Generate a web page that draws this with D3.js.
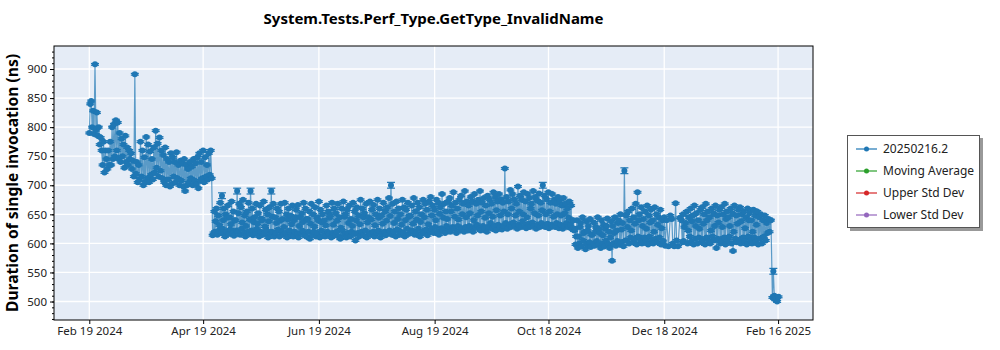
<!DOCTYPE html>
<html><head><meta charset="utf-8">
<script src="https://cdn.jsdelivr.net/npm/d3@7"></script>
<style>
body{margin:0;background:#fff;}
text{font-family:"Noto Sans","Open Sans",sans-serif;}
</style>
</head><body>
<svg id="chart" width="1000" height="350"></svg>
<script>
const chartTitle = "System.Tests.Perf_Type.GetType_InvalidName";
const yAxisTitle = "Duration of single invocation (ns)";
const seriesName = "20250216.2";

// Benchmark runs, one inner list per calendar day starting at firstRunDay (ns)
const firstRunDay = [2024, 1, 19];
const dailyRuns = [
  [790,840],[845,800],[828,788],[908,795],[825,785],[800,770],[782,760],[735,775],[722,760],[745,728],
  [760,735],[775,735],[800,745],[805,750],[812,760],[808,745],[790,740],[780,750],[770,730],[785,740],
  [765,735],[760,745],[755,728],[742,715],[891,720],[740,705],[735,710],[775,715],[760,700],[748,705],
  [783,712],[770,705],[758,718],[745,710],[765,722],[794,730],[772,715],[782,725],[760,712],[752,705],
  [765,700],[745,710],[740,698],[755,702],[748,715],[740,705],[757,712],[735,700],[742,708],[738,698],
  [745,690],[735,700],[728,705],[740,712],[732,700],[745,708],[738,702],[748,695],[755,708],[740,712],
  [760,705],[748,715],[735,710],[755,718],[760,712],
  [614,618],
  [655,620,638],[660,615],[648,622,631],[670,618],[682,625,640],[660,612],[650,620,644],[665,616],[645,624,633],[672,618],
  [655,613,640],[640,622],[690,620,652],[668,615],[662,625,636],[675,618],[648,612,630],[655,620],[670,616,641],[690,622],
  [660,614,637],[645,618],[668,625,634],[652,612],[665,620,643],[640,615],[672,618,629],[658,622],[650,610,638],[662,617],
  [690,620,646],[668,612],[645,618,635],[660,624],[655,612,639],[668,620],[642,615,628],[670,618],[650,610,641],[660,622],
  [648,614,633],[665,612],[640,620,645],[658,616],[666,610,630],[645,618],[652,622,637],[670,614],[660,612,642],[642,620],
  [655,608,634],[668,615],[650,620,629],[662,612],[645,618,640],[672,610],[658,622,636],[650,614],[640,612,631],[665,620],
  [655,616,644],[648,610],[670,618,632],[660,614],[652,620,639],[668,612],[645,608,627],[660,622],[672,615,646],[650,610],
  [658,618,635],[665,612],[642,620,630],[670,616],[655,605,640],[662,618],[648,612,633],[675,620],[660,614,645],[652,622],
  [668,610,636],[645,618],[672,615,641],[658,620],[666,612,631],[650,618],[675,622,644],[660,610],[648,616,634],[670,620],
  [655,614,639],[662,618],[678,622,647],[700,615],[668,620,635],[655,612],[672,624,642],[660,615],[650,620,632],[675,618],
  [662,612,640],[658,625],[670,616,646],[648,620],[665,622,634],[678,615],[655,618,641],[670,625],[662,612,637],[650,620],
  [675,618,645],[668,624],[658,614,633],[672,620],[680,625,648],[665,618],[658,628,640],[675,620],[670,615,651],[662,626],
  [685,622,644],[668,618],[655,630,642],[672,624],[678,620,655],[665,628],[688,625,646],[670,618],[660,630,641],[675,622],
  [682,626,650],[668,620],[690,628,645],[672,622],[665,630,652],[680,624],[672,620,640],[685,628],[668,632,648],[675,625],
  [690,622,655],[670,630],[678,626,644],[665,620],[682,628,652],[675,635],[668,625,646],[688,630],[680,622,657],[672,632],
  [685,628,648],[676,624],[670,630,655],[729,635],[680,625,650],[672,632],[692,628,660],[685,636],[676,630,648],[668,625],
  [698,632,655],[682,628],[675,638,650],[688,630],[672,626,645],[685,634],[678,628,660],[668,636],[690,630,652],[680,625],
  [674,632,648],[686,628],[670,635,657],[700,630],[682,628,650],[676,634],[688,626,655],[670,632],[685,630,646],[675,628],
  [668,635,650],[680,626],[672,632,648],[665,625],[678,630,652],[668,635],[660,628,644],[672,632],[665,625,640],[640,622],
  [625,598,612],[640,592],[612,600,628],[635,595],[645,605,618],[620,590],[638,598,622],[630,602],[642,594,615],[615,600],
  [636,596,620],[628,604],[645,598,625],[618,592],[640,600,614],[632,595],[625,605,630],[643,598],[620,592,610],[638,570],
  [630,600,618],[645,596],[622,604,635],[640,598],[650,602,624],[635,595],[725,605],
  [648,605,628],[655,600],[640,610,622],[660,602],[645,608,634],[668,598],[688,612,640],[650,604],[662,600,630],[642,610],
  [655,605,625],[665,598],[648,612,636],[658,604],[640,600,620],[662,608],[650,602,632],[645,610],[658,598,626],[640,604],
  [645,596],[640],[595],[648],[642,600],[595],[669,605],[595],[644],[640,602],
  [650,604,628],[635],[655,600,622],[645,612],[660,603,638],[648,598],[665,608,630],[652,600],[640,610,625],[658,602],
  [662,606,634],[650,598],[668,610,640],[655,603],[645,600,622],[660,612],[652,605,630],[665,592],[648,608,636],[658,600],
  [662,604,628],[650,610],[668,598,642],[655,605],[645,612,630],[660,600],[652,587,620],[665,608],[648,602,634],[658,606],
  [662,600,638],[650,610],[655,604,626],[645,598],[660,612,640],[652,605],[640,600,620],[658,610],[648,603,632],[655,598],
  [645,608],[650,600],[640,612],[648,605],[635,618],[642,620],
  [640],[507,552],[510,503],[505,500],[508]
];

// Standard deviation of each run (ns); runs not listed use the default
const defaultStdDev = 1.5;
const wideStdDevs = [[70,0,5],[78,0,5],[85,0,5],[96,0,5],[159,0,5],[239,0,5],[282,0,5],[360,1,5]];

const xTickDates = [[2024,1,19],[2024,3,19],[2024,5,19],[2024,7,19],[2024,9,18],[2024,11,18],[2025,1,16]];
const xTickLabels = ["Feb 19 2024","Apr 19 2024","Jun 19 2024","Aug 19 2024","Oct 18 2024","Dec 18 2024","Feb 16 2025"];
const yTicks = [500,550,600,650,700,750,800,850,900];
const yMinorTicks = d3.range(470, 940, 10);

const legendNames = [seriesName, "Moving Average", "Upper Std Dev", "Lower Std Dev"];
const legendColors = ["#1f77b4", "#2ca02c", "#d62728", "#9467bd"];

// ---- layout ----
const plot = {left: 54, top: 46, right: 813, bottom: 320};
const DAY = 86400000;
const utc = a => new Date(Date.UTC(a[0], a[1], a[2]));
const t0 = utc(firstRunDay).getTime();

const x = d3.scaleUtc()
  .domain([new Date(t0 - 18.6 * DAY), new Date(t0 + 381.4 * DAY)])
  .range([plot.left, plot.right]);
const y = d3.scaleLinear().domain([468.2, 939.6]).range([plot.bottom, plot.top]);

// flatten runs into timed points
const errLookup = new Map(wideStdDevs.map(e => [e[0] + ":" + e[1], e[2]]));
const points = [];
dailyRuns.forEach((runs, day) => {
  runs.forEach((v, k) => {
    const frac = (k + 0.5) / runs.length;
    points.push({
      t: new Date(t0 + (day + frac - 0.25) * DAY),
      v,
      sd: errLookup.get(day + ":" + k) ?? defaultStdDev
    });
  });
});

const svg = d3.select("#chart");

svg.append("defs").append("clipPath").attr("id", "plotClip")
  .append("rect").attr("x", plot.left).attr("y", plot.top)
  .attr("width", plot.right - plot.left).attr("height", plot.bottom - plot.top);

svg.append("rect").attr("x", plot.left).attr("y", plot.top)
  .attr("width", plot.right - plot.left).attr("height", plot.bottom - plot.top)
  .attr("fill", "#e5ecf6");

// grid
const grid = svg.append("g").attr("stroke", "#fff").attr("stroke-width", 1.3);
grid.selectAll("line.h").data(yTicks).join("line")
  .attr("x1", plot.left).attr("x2", plot.right)
  .attr("y1", d => y(d)).attr("y2", d => y(d));
grid.selectAll("line.v").data(xTickDates).join("line")
  .attr("x1", d => x(utc(d))).attr("x2", d => x(utc(d)))
  .attr("y1", plot.top).attr("y2", plot.bottom);

// series
const marks = svg.append("g").attr("clip-path", "url(#plotClip)");
const color = legendColors[0];

marks.append("path").datum(points)
  .attr("fill", "none").attr("stroke", color).attr("stroke-width", 1.2).attr("stroke-opacity", 0.7)
  .attr("d", d3.line().x(d => x(d.t)).y(d => y(d.v)));

const eb = marks.append("g").attr("stroke", color).attr("stroke-width", 1.2);
points.forEach(p => {
  const px = x(p.t), y1 = y(p.v + p.sd), y2 = y(p.v - p.sd);
  eb.append("line").attr("x1", px).attr("x2", px).attr("y1", y1).attr("y2", y2);
  eb.append("line").attr("x1", px - 4).attr("x2", px + 4).attr("y1", y1).attr("y2", y1);
  eb.append("line").attr("x1", px - 4).attr("x2", px + 4).attr("y1", y2).attr("y2", y2);
});

marks.append("g").selectAll("circle").data(points).join("circle")
  .attr("cx", d => x(d.t)).attr("cy", d => y(d.v)).attr("r", 3)
  .attr("fill", color);

// frame
svg.append("rect").attr("x", plot.left).attr("y", plot.top)
  .attr("width", plot.right - plot.left).attr("height", plot.bottom - plot.top)
  .attr("fill", "none").attr("stroke", "#000").attr("stroke-width", 1);

// axes
const yAxis = svg.append("g").attr("transform", `translate(${plot.left},0)`)
  .call(d3.axisLeft(y).tickValues(yTicks).tickSize(4).tickPadding(3));
svg.append("g").attr("transform", `translate(${plot.left},0)`)
  .call(d3.axisLeft(y).tickValues(yMinorTicks).tickSize(2).tickFormat(""))
  .call(g => g.select(".domain").remove());
const xAxis = svg.append("g").attr("transform", `translate(0,${plot.bottom})`)
  .call(d3.axisBottom(x).tickValues(xTickDates.map(utc)).tickSize(4).tickPadding(3)
    .tickFormat((d, i) => xTickLabels[i]));
[yAxis, xAxis].forEach(g => {
  g.select(".domain").remove();
  g.selectAll("text").attr("font-size", 11.5).attr("fill", "#222")
    .style("font-family", '"Noto Sans","Open Sans",sans-serif');
});

// titles
svg.append("text").attr("x", (plot.left + plot.right) / 2).attr("y", 24)
  .attr("text-anchor", "middle").attr("font-size", 15).attr("font-weight", "bold")
  .text(chartTitle);
svg.append("text").attr("transform", "translate(18,183) rotate(-90)")
  .attr("text-anchor", "middle").attr("font-size", 15.6).attr("font-weight", "bold")
  .text(yAxisTitle);

// legend
const lg = svg.append("g");
lg.append("rect").attr("x", 850).attr("y", 138).attr("width", 133).attr("height", 93).attr("fill", "#999");
lg.append("rect").attr("x", 847.5).attr("y", 135.5).attr("width", 132).attr("height", 92)
  .attr("fill", "#fff").attr("stroke", "#555");
legendNames.forEach((name, i) => {
  const cy = 149 + i * 22;
  lg.append("line").attr("x1", 856).attr("x2", 877).attr("y1", cy).attr("y2", cy)
    .attr("stroke", legendColors[i]).attr("stroke-width", 1.2);
  lg.append("circle").attr("cx", 866.5).attr("cy", cy).attr("r", 2.5).attr("fill", legendColors[i]);
  lg.append("text").attr("x", 883).attr("y", cy + 4).attr("font-size", 12).attr("fill", "#222").text(name);
});
</script>
</body></html>
